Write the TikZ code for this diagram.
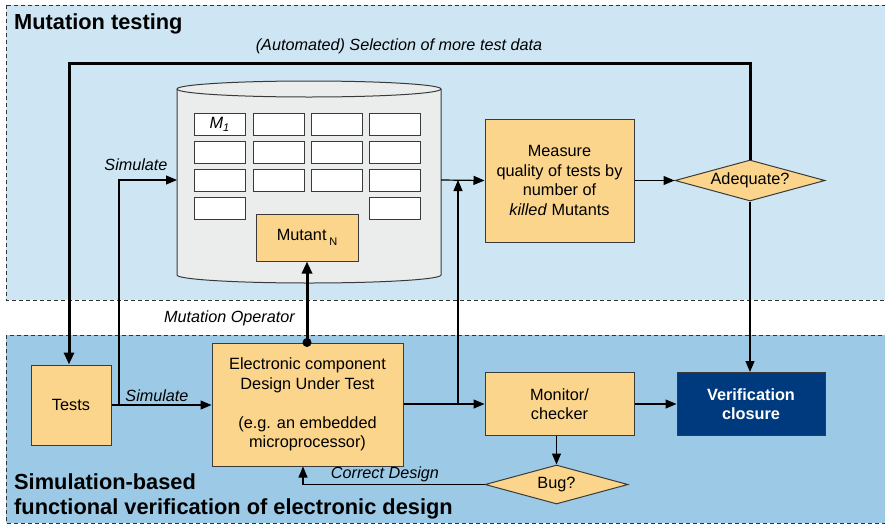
\documentclass[tikz,border=0pt]{standalone}
\usepackage{fontspec}
\setmainfont{Liberation Sans}
\usetikzlibrary{arrows.meta,shapes.geometric}

\definecolor{topblue}{HTML}{CEE6F3}
\definecolor{botblue}{HTML}{9CCAE6}
\definecolor{boxfill}{HTML}{FBD58B}
\definecolor{boxline}{HTML}{3A3A3A}
\definecolor{cylfill}{HTML}{EBECEC}
\definecolor{navy}{HTML}{003A7E}
\definecolor{frame}{HTML}{333333}

\tikzset{
  region/.style={draw=frame, line width=1pt, dash pattern=on 4pt off 3pt},
  orangebox/.style={draw=boxline, fill=boxfill, line width=1pt, align=center,
    inner sep=0pt, font=\fontsize{16.3}{19.5}\selectfont},
  decision/.style={diamond, shape aspect=3.6, draw=boxline, fill=boxfill, line width=1pt,
    inner sep=0pt, font=\fontsize{16.3}{19.5}\selectfont},
  cell/.style={draw=boxline, fill=white, line width=1pt, minimum width=51pt,
    minimum height=22pt, inner sep=0pt},
  flow/.style={line width=1.2pt, -{Triangle[length=11pt,width=9pt]}},
  bigflow/.style={line width=3pt, -{Triangle[length=12pt,width=10pt]}},
  lbl/.style={font=\fontsize{16.2}{19}\selectfont\itshape, inner sep=0pt},
  title/.style={font=\fontsize{21.8}{25.7}\selectfont\bfseries, inner sep=0pt, align=left},
}

\begin{document}
\begin{tikzpicture}[x=1pt,y=-1pt]
\useasboundingbox (0,0) rectangle (885,525);
\clip (0,0) rectangle (885,525);

% the two dashed areas
\path[region, fill=topblue] (6,5) rectangle (900,300);
\path[region, fill=botblue] (6,335) rectangle (900,523);

\node[title, anchor=base west] (ttop) at (14,29) {Mutation testing};
\node[title, anchor=base west] (tbot1) at (14,489) {Simulation-based};
\node[title, anchor=base west] (tbot2) at (14,514.5) {functional verification of electronic design};

% mutant database drawn as a cylinder
\draw[draw=boxline, fill=cylfill, line width=1pt]
  (177,89) -- (177,275) arc[start angle=180, end angle=360, x radius=132pt, y radius=8pt]
  -- (441,89) arc[start angle=0, end angle=180, x radius=132pt, y radius=8pt] -- cycle;
\draw[draw=boxline, line width=1pt]
  (177,89) arc[start angle=180, end angle=360, x radius=132pt, y radius=8pt];
\coordinate (cylW) at (177,180);
\coordinate (cylE) at (441,180);

% grid of mutants
\foreach \c/\x in {1/219.5,2/278.5,3/336.5,4/394.5}{
  \foreach \r/\y in {1/124,2/152,3/180}{
    \node[cell] (cell-\r-\c) at (\x,\y) {};
  }
}
\node[cell] (cell-4-1) at (219.5,208) {};
\node[cell] (cell-4-4) at (394.5,208) {};
\node[font=\fontsize{16.3}{18}\selectfont\itshape, inner sep=0pt] (m1) at (219.5,124)
  {M\raisebox{-0.35ex}{\fontsize{11}{12}\selectfont 1}};

\node[orangebox, minimum width=102pt, minimum height=47pt] (mutant) at (307,237.5)
  {Mutant\,\raisebox{-0.6ex}{\fontsize{11}{12}\selectfont N}};

% mutation testing flow
\node[orangebox, minimum width=149pt, minimum height=123pt] (measure) at (559.5,180.5)
  {Measure\\quality of tests by\\number of\\\textit{killed} Mutants};
\node[decision, minimum width=150pt, minimum height=41pt] (adeq) at (750,180.5) {Adequate?};

% simulation-based verification flow
\node[orangebox, minimum width=80pt, minimum height=80pt] (tests) at (71,405) {Tests};
\node[orangebox, minimum width=191pt, minimum height=123pt] (design) at (307.5,404.5)
  {Electronic component\\Design Under Test\\[19.5pt](e.g. an embedded\\microprocessor)};
\node[orangebox, minimum width=149pt, minimum height=63pt] (monitor) at (559.5,404)
  {Monitor/\\checker};
\node[draw=boxline, fill=navy, line width=1pt, minimum width=148pt, minimum height=63pt,
  inner sep=0pt, align=center, text=white, font=\fontsize{16.3}{19.5}\selectfont\bfseries]
  (verif) at (751,404) {Verification\\closure};
\node[decision, minimum width=143pt, minimum height=39pt] (bug) at (556.5,484.5) {Bug?};

% connectors
\coordinate (loopL) at (69,63);
\coordinate (loopR) at (adeq.north |- loopL);
\draw[bigflow] (adeq.north) -- (loopR) -- (loopL) -- (loopL |- tests.north);
\node[lbl] (selLbl) at (399,46) {(Automated) Selection of more test data};

\draw[flow] (tests.east |- 0,405) -- (design.west |- 0,405);
\node[lbl] (simLbl2) at (157,396) {Simulate};
\coordinate (simJ) at (119,405);
\draw[flow] (simJ) |- (cylW);
\node[lbl] (simLbl1) at (136,165) {Simulate};

\draw[flow] (cylE) -- (measure.west);
\draw[flow] (measure.east) -- (adeq.west);
\draw[flow] (adeq.south) -- (verif.north -| adeq.south);

\draw[flow] (design.east |- monitor.west) -- (monitor.west);
\coordinate (upJ) at (458,404);
\draw[flow] (upJ) -- (458,180);

\draw[flow] (monitor.east) -- (verif.west);
\draw[flow] (monitor.south -| bug.north) -- (bug.north);

\coordinate (cdJ) at (303,484.5);
\draw[flow] (bug.west) -- (cdJ) -- (cdJ |- design.south);
\node[lbl] (cdLbl) at (385,474) {Correct Design};

\draw[bigflow] (design.north -| mutant.south) -- (mutant.south);
\fill[black] (design.north -| mutant.south) circle[radius=4.5pt];
\node[lbl] (moLbl) at (229.5,318) {Mutation Operator};

\end{tikzpicture}
\end{document}
